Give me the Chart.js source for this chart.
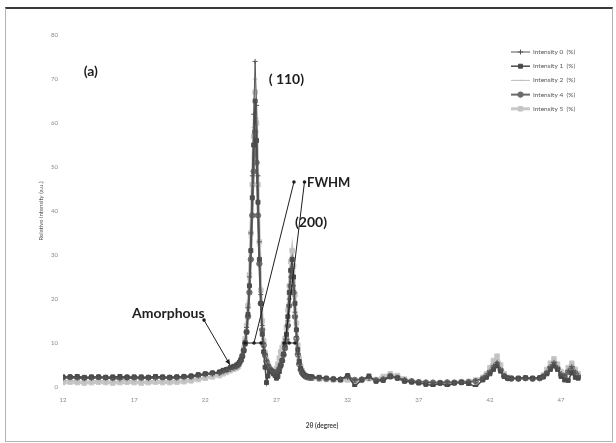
<!DOCTYPE html>
<html>
<head>
<meta charset="utf-8">
<script src="https://cdn.jsdelivr.net/npm/chart.js"></script>
<style>
  html, body { margin: 0; padding: 0; background: #ffffff; }
  #wrap { position: relative; width: 616px; height: 443px; }
  #frame { position: absolute; left: 5px; top: 7px; width: 606px; height: 432px;
           border: 1px solid #b4b4b4; border-top: 2px solid #3a3a3a; pointer-events: none; }
</style>
</head>
<body>
<div id="wrap">
  <canvas id="c" width="616" height="443"></canvas>
  <div id="frame"></div>
</div>
<script>
// ---------------- DATA ----------------
const twoTheta = [
  12,12.5,13,13.5,14,14.5,15,15.5,16,16.5,17,17.5,18,18.5,19,19.5,20,20.5,21,21.5,22,22.5,23,
  23.25,23.5,23.75,24,24.2,
  24.3,24.4,24.5,24.6,24.7,24.8,24.9,25.0,25.1,25.2,
  25.3,25.4,25.5,25.6,25.7,25.8,25.9,26.0,26.1,26.2,
  26.3,26.4,26.5,26.6,26.7,26.8,26.9,27.0,27.1,27.2,
  27.3,27.4,27.5,27.6,27.7,27.8,27.9,28.0,28.1,28.2,
  28.3,28.4,28.5,28.6,28.7,28.8,28.9,29.0,29.1,29.2,
  29.3,29.4,29.5,
  30,30.5,31,31.5,32,32.5,33,33.5,34,34.5,35,35.5,36,36.5,37,37.5,38,38.5,39,39.5,40,40.5,41,41.5,
  41.75,42,42.25,42.5,42.75,43,43.25,43.5,
  44,44.5,45,45.5,
  45.75,46,46.25,46.5,46.75,47,47.25,47.5,47.75,48,48.2
];

const intensity0 = [
  2.0,2.1,2.0,1.9,2.0,2.1,2.0,1.9,1.8,1.9,2.0,2.0,1.9,2.0,2.1,2.0,2.0,2.1,2.2,2.5,2.8,3.0,3.2,
  3.5,3.8,4.0,4.3,4.5,
  4.8,5.3,6.0,7.2,8.6,10.5,13.5,18,25,35,
  48,62,74,64,48,33,21,14,10,7.5,
  6,5,4.3,3.8,3.5,3.3,3.2,3.3,3.6,4.2,
  5,6.2,7.6,9.2,11.5,15,20,25,27,23,
  17,11.5,7.5,5.2,3.9,3.2,2.8,2.5,2.3,2.2,
  2.1,2.1,2.0,
  2.0,1.9,1.8,1.8,2.2,1.5,1.8,2.0,1.6,1.8,2.4,2.0,1.6,1.4,1.2,1.1,1.0,1.0,1.1,1.0,1.1,1.2,1.4,1.9,
  2.6,3.6,4.8,5.6,4.0,2.6,2.1,1.9,
  1.8,1.9,1.8,1.9,
  2.4,3.3,4.6,5.6,4.4,3.0,2.6,3.8,4.6,3.4,2.6
];

const intensity1 = [
  2.3,2.3,2.4,2.2,2.3,2.3,2.2,2.3,2.4,2.2,2.3,2.3,2.2,2.4,2.3,2.2,2.3,2.4,2.5,2.8,3.0,3.2,3.4,
  3.8,4.0,4.4,4.7,5.0,
  5.2,5.6,6.2,7.0,8.2,9.8,12.5,16.5,23,31,
  43,55,65,56,42,29,19,12,8,4.5,
  1.0,2.5,3.5,3.8,3.5,3.0,2.6,2.0,2.4,3.5,
  4.8,6.0,7.5,9.5,12,16,21.5,26.5,29,25,
  19,13,8.5,5.8,4.2,3.4,2.9,2.6,2.5,2.4,
  2.4,2.3,2.3,
  2.2,2.0,1.8,1.7,2.6,0.2,1.6,2.5,1.3,1.5,2.3,2.0,1.3,1.1,0.9,0.6,0.3,0.9,0.2,0.9,1.0,0.8,0.0,1.6,
  2.2,3.0,4.0,4.8,3.6,2.4,2.0,2.0,
  2.0,2.1,2.0,2.1,
  2.3,3.0,4.0,4.8,4.0,2.4,1.6,1.5,3.2,2.2,2.0
];

const intensity2 = [
  1.4,1.5,1.4,1.3,1.4,1.5,1.4,1.3,1.4,1.5,1.4,1.3,1.4,1.5,1.4,1.4,1.5,1.6,1.7,2.0,2.3,2.6,2.9,
  3.2,3.5,3.8,4.1,4.4,
  4.6,5.1,5.8,6.9,8.3,10.2,13,17.5,24.5,34,
  46,59,70,61,46,32,21,13.5,9.5,7,
  5.6,4.7,4.1,3.7,3.4,3.2,3.1,3.2,3.5,4.1,
  4.9,6.0,7.4,9.0,11.2,14.5,19,23.5,26,22.5,
  16.5,11,7.2,5.0,3.7,3.0,2.6,2.3,2.1,2.0,
  1.9,1.9,1.8,
  1.7,1.6,1.5,1.5,1.8,1.4,1.5,1.7,1.4,1.6,2.2,1.8,1.4,1.2,1.0,0.9,0.9,0.9,1.0,0.9,1.0,1.1,1.3,1.8,
  2.8,4.0,5.4,6.3,4.4,2.8,2.0,1.8,
  1.7,1.8,1.7,1.8,
  2.5,3.6,5.0,6.0,4.8,3.2,2.6,4.0,5.0,3.6,2.8
];

const intensity4 = [
  2.1,2.2,2.1,2.0,2.1,2.2,2.1,2.0,2.1,2.2,2.1,2.0,2.1,2.2,2.1,2.1,2.2,2.3,2.4,2.6,2.9,3.1,3.3,
  3.6,3.9,4.2,4.5,4.8,
  5.0,5.5,6.1,7.0,8.3,10,12.5,16,21.5,29,
  39,49,58,51,39,28,19,13,9.5,7.2,
  5.8,4.8,4.2,3.8,3.5,3.3,3.2,3.3,3.6,4.2,
  5.0,6.0,7.3,8.8,10.8,14,18.5,23,25,21.5,
  16,11,7.4,5.2,3.9,3.2,2.8,2.5,2.3,2.2,
  2.2,2.1,2.1,
  2.0,1.9,1.8,1.7,2.4,1.6,1.7,2.1,1.5,1.7,2.5,2.1,1.5,1.3,1.1,1.0,1.0,0.9,1.0,1.0,1.1,1.1,1.3,1.9,
  2.5,3.4,4.5,5.2,3.9,2.5,2.0,1.9,
  1.9,2.0,1.9,2.0,
  2.4,3.2,4.4,5.3,4.2,2.8,2.3,3.4,4.3,3.2,2.4
];

const intensity5 = [
  1.0,1.1,1.0,0.9,1.0,1.1,1.0,0.9,1.0,1.1,1.0,0.9,1.0,1.1,1.0,1.0,1.1,1.2,1.4,1.7,2.0,2.3,2.6,
  3.0,3.3,3.7,4.0,4.3,
  4.6,5.2,6.0,7.2,8.8,11,14,18.5,25.5,35,
  46,57,67,60,46,33,22,15,10.5,7.8,
  6.2,5.2,4.5,4.0,3.7,3.6,3.7,4.2,5.2,6.6,
  8.0,9.0,9.8,11,13.5,17.5,23,28.5,31,27.5,
  21,14.5,9.5,6.5,4.7,3.7,3.1,2.7,2.4,2.2,
  2.1,2.0,2.0,
  1.8,1.7,1.6,1.5,1.6,1.5,1.6,1.9,1.7,2.4,3.0,2.6,1.8,1.3,1.1,1.0,0.9,1.0,1.1,1.0,1.2,1.3,1.6,2.2,
  3.0,4.4,6.0,7.0,5.0,3.0,2.2,2.0,
  1.9,2.0,1.9,2.0,
  2.7,4.0,5.4,6.4,5.2,3.5,2.8,4.4,5.4,4.0,3.0
];

const seriesLabels = ['Intensity 0  (%)', 'Intensity 1  (%)', 'Intensity 2  (%)', 'Intensity 4  (%)', 'Intensity 5  (%)'];
const xTickValues = [12, 17, 22, 27, 32, 37, 42, 47];

// annotation texts (data coordinates)
const annotTexts = [
  { text: '(a)',       x: 13.45, y: 71.8, size: 14 },
  { text: '( 110)',    x: 26.45, y: 69.8, size: 14 },
  { text: 'FWHM',      x: 29.15, y: 46.4, size: 13 },
  { text: '(200)',     x: 28.30, y: 37.5, size: 14 },
  { text: 'Amorphous', x: 16.85, y: 16.8, size: 14 }
];
// lines [x1,y1,x2,y2]
const annotLines = [
  [28.23, 46.6, 25.42, 10.0],
  [28.97, 46.6, 27.60, 10.0],
  [24.79, 10.0, 25.91, 10.0],
  [27.53, 10.0, 28.30, 10.0],
  [21.91, 15.2, 23.74, 5.0]
];
const annotDots = [
  [28.23, 46.6], [28.97, 46.6],
  [24.79, 10.0], [25.42, 10.0], [25.91, 10.0],
  [27.53, 10.0], [27.90, 10.0], [28.30, 10.0],
  [21.91, 15.2]
];
const annotArrow = [21.91, 15.2, 23.74, 5.0];

// ---------------- BUILD ----------------
const toPts = arr => twoTheta.map((t, i) => ({ x: t, y: arr[i] }));

const styles = [
  { color: '#555555', fill: '#555555', bw: 1,   ps: 'cross', r: 2.5 },
  { color: '#4a4a4a', fill: '#4a4a4a', bw: 1.5, ps: 'rect',  r: 2.8 },
  { color: '#bdbdbd', fill: '#bdbdbd', bw: 1,   ps: 'line',  r: 2.2 },
  { color: '#6b6b6b', fill: '#6b6b6b', bw: 2,   ps: 'circle',r: 2.7 },
  { color: '#c8c8c8', fill: '#c2c2c2', bw: 3,   ps: 'rect',  r: 3.2 }
];
const seriesData = [intensity0, intensity1, intensity2, intensity4, intensity5];

const datasets = seriesData.map((arr, i) => ({
  label: seriesLabels[i],
  data: toPts(arr),
  borderColor: styles[i].color,
  backgroundColor: styles[i].fill,
  borderWidth: styles[i].bw,
  pointStyle: styles[i].ps,
  pointRadius: styles[i].r,
  pointBackgroundColor: styles[i].fill,
  pointBorderColor: styles[i].color,
  pointBorderWidth: 1,
  tension: 0,
  fill: false
}));

const cornerLegend = {
  id: 'cornerLegend',
  afterDraw(chart) {
    const { ctx, chartArea } = chart;
    const x0 = chartArea.right - 70, y0 = chartArea.top + 17, dy = 14.2;
    ctx.save();
    chart.data.datasets.forEach((ds, i) => {
      const yy = y0 + i * dy;
      ctx.strokeStyle = ds.borderColor;
      ctx.lineWidth = ds.borderWidth;
      ctx.beginPath(); ctx.moveTo(x0, yy); ctx.lineTo(x0 + 19, yy); ctx.stroke();
      ctx.fillStyle = ds.pointBackgroundColor;
      ctx.strokeStyle = ds.pointBorderColor;
      ctx.lineWidth = 1;
      Chart.helpers.drawPoint(ctx, { pointStyle: ds.pointStyle, radius: ds.pointRadius, borderWidth: 1, rotation: 0 }, x0 + 9.5, yy);
      ctx.fillStyle = '#555';
      ctx.font = '6.5px Lato, "DejaVu Sans", sans-serif';
      ctx.textBaseline = 'middle';
      ctx.textAlign = 'left';
      ctx.fillText(ds.label, x0 + 22, yy);
    });
    ctx.restore();
  }
};

const annotations = {
  id: 'annotations',
  afterDatasetsDraw(chart) {
    const { ctx, scales: { x, y } } = chart;
    const P = (a, b) => [x.getPixelForValue(a), y.getPixelForValue(b)];
    ctx.save();
    ctx.strokeStyle = '#1e1e1e';
    ctx.fillStyle = '#1e1e1e';
    ctx.lineWidth = 1;
    annotLines.forEach(l => {
      const [x1, y1] = P(l[0], l[1]);
      const [x2, y2] = P(l[2], l[3]);
      ctx.beginPath(); ctx.moveTo(x1, y1); ctx.lineTo(x2, y2); ctx.stroke();
    });
    annotDots.forEach(d => {
      const [px, py] = P(d[0], d[1]);
      ctx.beginPath(); ctx.arc(px, py, 1.8, 0, Math.PI * 2); ctx.fill();
    });
    // arrow head
    const [ax1, ay1] = P(annotArrow[0], annotArrow[1]);
    const [ax2, ay2] = P(annotArrow[2], annotArrow[3]);
    const ang = Math.atan2(ay2 - ay1, ax2 - ax1);
    ctx.beginPath();
    ctx.moveTo(ax2, ay2);
    ctx.lineTo(ax2 - 6 * Math.cos(ang - 0.4), ay2 - 6 * Math.sin(ang - 0.4));
    ctx.lineTo(ax2 - 6 * Math.cos(ang + 0.4), ay2 - 6 * Math.sin(ang + 0.4));
    ctx.closePath(); ctx.fill();
    // texts
    ctx.textBaseline = 'middle';
    ctx.textAlign = 'left';
    annotTexts.forEach(t => {
      const [px, py] = P(t.x, t.y);
      ctx.font = 'bold ' + t.size + 'px Lato, "Open Sans", sans-serif';
      ctx.fillText(t.text, px, py);
    });
    ctx.restore();
  }
};

new Chart(document.getElementById('c'), {
  type: 'line',
  data: { datasets },
  options: {
    responsive: false,
    animation: false,
    layout: { padding: { left: 0, right: 35, top: 35, bottom: 0 } },
    plugins: { legend: { display: false }, tooltip: { enabled: false } },
    scales: {
      x: {
        type: 'linear',
        min: 12, max: 48.4,
        grid: { display: false, drawTicks: false },
        border: { display: false },
        afterBuildTicks: s => { s.ticks = xTickValues.map(v => ({ value: v })); },
        afterFit: s => { s.height = 56; },
        ticks: { padding: 9, color: '#8a8a8a', font: { size: 6, family: 'Lato' }, maxRotation: 0, autoSkip: false },
        title: { display: true, text: '2θ (degree)', color: '#444', font: { size: 6.5, weight: 'bold', family: 'Lato' }, padding: { top: 0, bottom: 13 } }
      },
      y: {
        min: 0, max: 80,
        grid: { display: false, drawTicks: false },
        border: { display: false },
        afterFit: s => { s.width = 63; },
        ticks: { stepSize: 10, padding: 5, color: '#8a8a8a', font: { size: 6, family: 'Lato' } },
        title: { display: true, text: 'Relative intensity (a.u.)', color: '#555', font: { size: 6, family: 'Lato' }, padding: { top: 37, bottom: 0 } }
      }
    }
  },
  plugins: [annotations, cornerLegend]
});
</script>
</body>
</html>
